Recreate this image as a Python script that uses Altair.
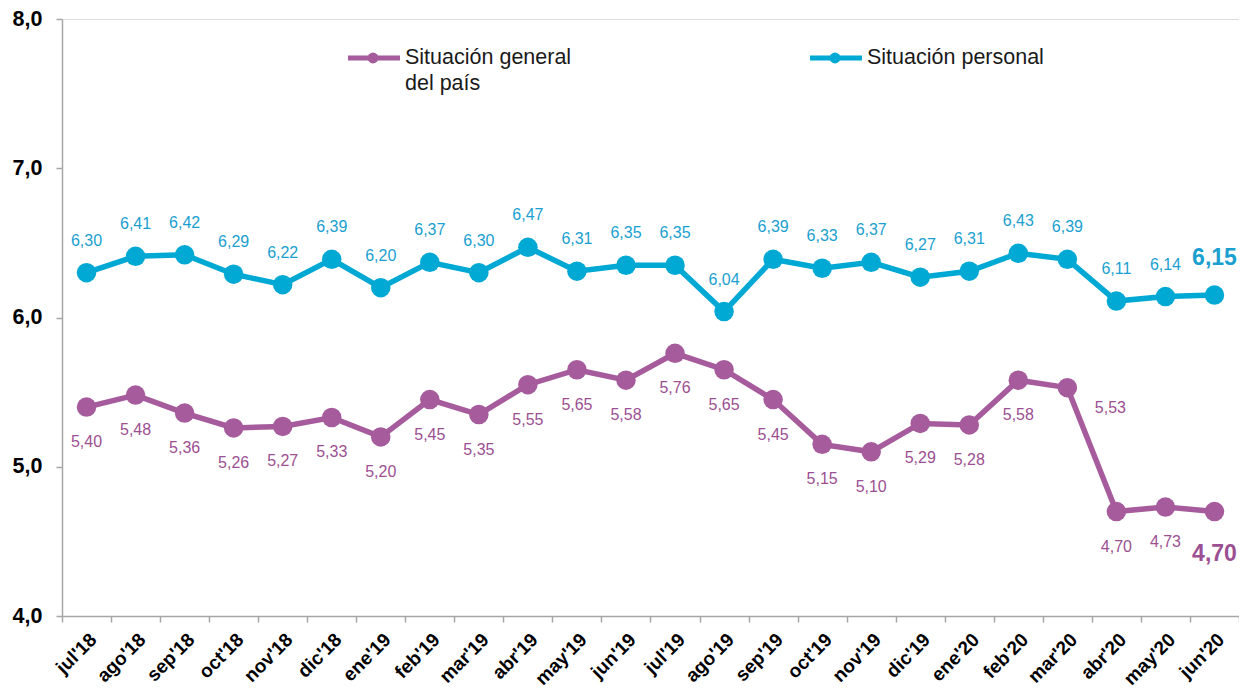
import altair as alt
import pandas as pd

months = ["jul'18", "ago'18", "sep'18", "oct'18", "nov'18", "dic'18", "ene'19", "feb'19",
          "mar'19", "abr'19", "may'19", "jun'19", "jul'19", "ago'19", "sep'19", "oct'19",
          "nov'19", "dic'19", "ene'20", "feb'20", "mar'20", "abr'20", "may'20", "jun'20"]
personal = [6.30, 6.41, 6.42, 6.29, 6.22, 6.39, 6.20, 6.37, 6.30, 6.47, 6.31, 6.35,
            6.35, 6.04, 6.39, 6.33, 6.37, 6.27, 6.31, 6.43, 6.39, 6.11, 6.14, 6.15]
general = [5.40, 5.48, 5.36, 5.26, 5.27, 5.33, 5.20, 5.45, 5.35, 5.55, 5.65, 5.58,
           5.76, 5.65, 5.45, 5.15, 5.10, 5.29, 5.28, 5.58, 5.53, 4.70, 4.73, 4.70]
y_ticks = [4, 5, 6, 7, 8]

SER_GEN = "Situación general del país"
SER_PER = "Situación personal"
COL_GEN = "#A65B9C"
COL_PER = "#00A8D4"
TXT_GEN = "#9C4F92"
TXT_PER = "#1A9FD0"

rows = []
for i, m in enumerate(months):
    rows.append({"month": m, "idx": i, "serie": SER_PER, "value": personal[i]})
    rows.append({"month": m, "idx": i, "serie": SER_GEN, "value": general[i]})
df = pd.DataFrame(rows)
last = len(months) - 1

FONT = "Liberation Sans"

base = alt.Chart(df).transform_calculate(
    label="replace(format(datum.value, '.2f'), '.', ',')"
).encode(
    x=alt.X("month:N", sort=months,
            scale=alt.Scale(type="band", paddingInner=0, paddingOuter=0),
            axis=alt.Axis(title=None, labelAngle=-45, labelFontSize=19, labelFontWeight="bold",
                          labelColor="#000000", labelFont=FONT, tickBand="extent", tickSize=6,
                          tickColor="#A6A6A6", domainColor="#A6A6A6", domainWidth=1.5,
                          tickWidth=1.5, labelPadding=8, grid=False)),
    y=alt.Y("value:Q", scale=alt.Scale(domain=[4, 8], nice=False, zero=False),
            axis=alt.Axis(title=None, values=y_ticks,
                          labelExpr="replace(format(datum.value, '.1f'), '.', ',')",
                          labelFontSize=21.5, labelFontWeight="bold", labelColor="#000000",
                          labelFont=FONT, tickSize=6, tickColor="#A6A6A6", tickWidth=1.5,
                          domainColor="#A6A6A6", domainWidth=1.5, labelPadding=14, grid=False)),
    color=alt.Color("serie:N", scale=alt.Scale(domain=[SER_GEN, SER_PER], range=[COL_GEN, COL_PER]),
                    legend=None),
)

line = base.mark_line(strokeWidth=5.5)
pts = base.mark_circle(size=380, opacity=1)

per_lab = base.transform_filter(
    f"datum.serie == '{SER_PER}' && datum.idx < {last}"
).mark_text(dy=-32, fontSize=16, font=FONT).encode(text="label:N", color=alt.value(TXT_PER))
gen_lab = base.transform_filter(
    f"datum.serie == '{SER_GEN}' && datum.idx < {last} && datum.month != \"mar'20\""
).mark_text(dy=35, fontSize=16, font=FONT).encode(text="label:N", color=alt.value(TXT_GEN))
gen_lab2 = base.transform_filter(
    f"datum.serie == '{SER_GEN}' && datum.month == \"mar'20\""
).mark_text(dx=43, dy=20, fontSize=16, font=FONT).encode(text="label:N", color=alt.value(TXT_GEN))
per_last = base.transform_filter(
    f"datum.serie == '{SER_PER}' && datum.idx == {last}"
).mark_text(dy=-37, fontSize=23, fontWeight="bold", font=FONT).encode(text="label:N", color=alt.value(TXT_PER))
gen_last = base.transform_filter(
    f"datum.serie == '{SER_GEN}' && datum.idx == {last}"
).mark_text(dy=42, fontSize=23, fontWeight="bold", font=FONT).encode(text="label:N", color=alt.value(TXT_GEN))

# legend (decoration)
ld = pd.DataFrame({"k": [0]})
leg = []
for (x0, col, lines) in [(286, COL_GEN, ["Situación general", "del país"]),
                         (748, COL_PER, ["Situación personal"])]:
    leg.append(alt.Chart(ld).mark_rule(strokeWidth=5, color=col).encode(
        x=alt.value(x0), x2=alt.value(x0 + 52), y=alt.value(39)))
    leg.append(alt.Chart(ld).mark_circle(size=120, color=col, opacity=1).encode(
        x=alt.value(x0 + 25), y=alt.value(39)))
    for j, t in enumerate(lines):
        leg.append(alt.Chart(ld).mark_text(align="left", baseline="middle", fontSize=21.5,
                                           font=FONT, color="#1A1A1A").encode(
            x=alt.value(x0 + 57), y=alt.value(39 + 26 * j), text=alt.value(t)))

chart = alt.layer(line, pts, per_lab, gen_lab, gen_lab2, per_last, gen_last, *leg).properties(
    width=1177, height=597,
    autosize=alt.AutoSizeParams(type="none"),
    padding={"left": 54, "top": 11, "right": 0, "bottom": 80},
).configure_view(stroke=None).configure(font=FONT)

chart.save("out.html", embed_options={"renderer": "svg", "actions": False})
